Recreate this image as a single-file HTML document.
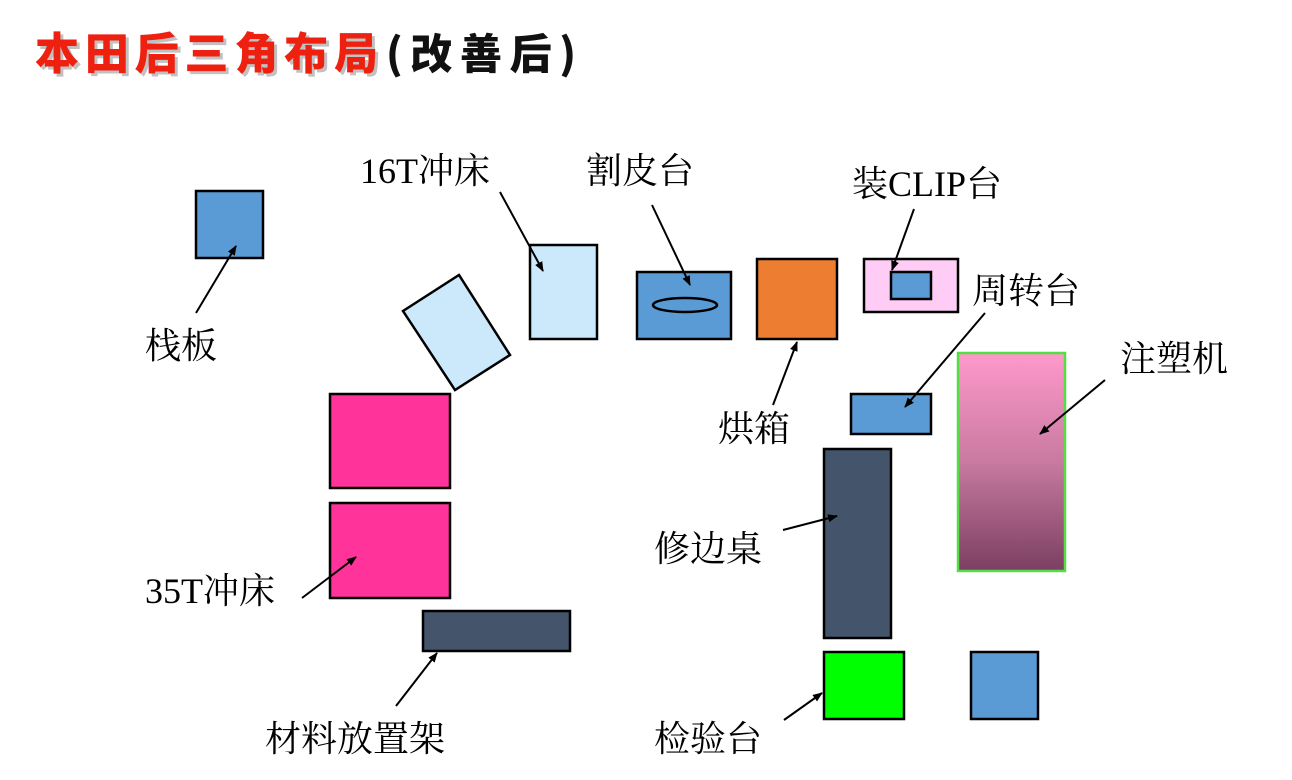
<!DOCTYPE html>
<html><head><meta charset="utf-8"><style>
html,body{margin:0;padding:0;background:#fff;}
svg{display:block;}
text{font-family:"Liberation Serif","Noto Serif CJK SC",serif;font-size:36px;fill:#000;}
</style></head><body>
<svg width="1292" height="780" viewBox="0 0 1292 780" xmlns="http://www.w3.org/2000/svg">
<defs>
<linearGradient id="g" x1="0" y1="0" x2="0" y2="1"><stop offset="0" stop-color="#ff99cc"/><stop offset="0.5" stop-color="#c87aa0"/><stop offset="1" stop-color="#7a3f62"/></linearGradient>
<marker id="a" markerWidth="10" markerHeight="10" refX="9" refY="5" orient="auto" markerUnits="userSpaceOnUse"><path d="M0,1 L10,5 L0,9 z" fill="#000"/></marker>
</defs>
<text x="38" y="72" textLength="343" lengthAdjust="spacing" style="font-family:'Noto Sans CJK SC',sans-serif;font-weight:900;font-size:44px;fill:#999" opacity="0.6">本田后三角布局</text>
<text x="35" y="69" textLength="343" lengthAdjust="spacing" style="font-family:'Noto Sans CJK SC',sans-serif;font-weight:900;font-size:44px;fill:#ee2010">本田后三角布局</text>
<text x="386" y="69" textLength="190" lengthAdjust="spacing" style="font-family:'Noto Sans CJK SC',sans-serif;font-weight:900;font-size:42px;fill:#111">(改善后)</text>
<g stroke="#000" stroke-width="2.5">
<rect x="196" y="191" width="67" height="67" fill="#5b9bd5"/>
<rect x="530" y="245" width="67" height="94" fill="#cce9fb"/>
<polygon points="403,311 459,275 510,355 455,390" fill="#cce9fb"/>
<rect x="637" y="272" width="94" height="67" fill="#5b9bd5"/>
<ellipse cx="685" cy="305" rx="32" ry="7" fill="#5b9bd5"/>
<rect x="757" y="259" width="80" height="80" fill="#ed7d31"/>
<rect x="864" y="259" width="94" height="53" fill="#ffccf5"/>
<rect x="891" y="272" width="40" height="27" fill="#5b9bd5"/>
<rect x="851" y="394" width="80" height="40" fill="#5b9bd5"/>
<rect x="330" y="394" width="120" height="94" fill="#ff3399"/>
<rect x="330" y="503" width="120" height="95" fill="#ff3399"/>
<rect x="423" y="611" width="147" height="40" fill="#44546a"/>
<rect x="824" y="449" width="67" height="189" fill="#44546a"/>
<rect x="824" y="652" width="80" height="67" fill="#00ff00"/>
<rect x="971" y="652" width="67" height="67" fill="#5b9bd5"/>
</g>
<rect x="958" y="353" width="107" height="218" fill="url(#g)" stroke="#55dd44" stroke-width="2.5"/>
<g stroke="#000" stroke-width="2" marker-end="url(#a)">
<line x1="196" y1="313" x2="236" y2="246"/>
<line x1="500" y1="192" x2="543" y2="271"/>
<line x1="652" y1="205" x2="690" y2="285"/>
<line x1="914" y1="209" x2="892" y2="270"/>
<line x1="773" y1="405" x2="797" y2="342"/>
<line x1="985" y1="313" x2="905" y2="407"/>
<line x1="1105" y1="380" x2="1040" y2="434"/>
<line x1="783" y1="530" x2="837" y2="516"/>
<line x1="302" y1="598" x2="356" y2="557"/>
<line x1="396" y1="706" x2="437" y2="653"/>
<line x1="784" y1="720" x2="822" y2="693"/>
</g>
<text x="145" y="358">栈板</text>
<text x="360" y="183">16T冲床</text>
<text x="586" y="183">割皮台</text>
<text x="852" y="196">装CLIP台</text>
<text x="972" y="303">周转台</text>
<text x="1120" y="371">注塑机</text>
<text x="718" y="441">烘箱</text>
<text x="654" y="561">修边桌</text>
<text x="145" y="603">35T冲床</text>
<text x="265" y="751">材料放置架</text>
<text x="654" y="751">检验台</text>
</svg>
</body></html>
